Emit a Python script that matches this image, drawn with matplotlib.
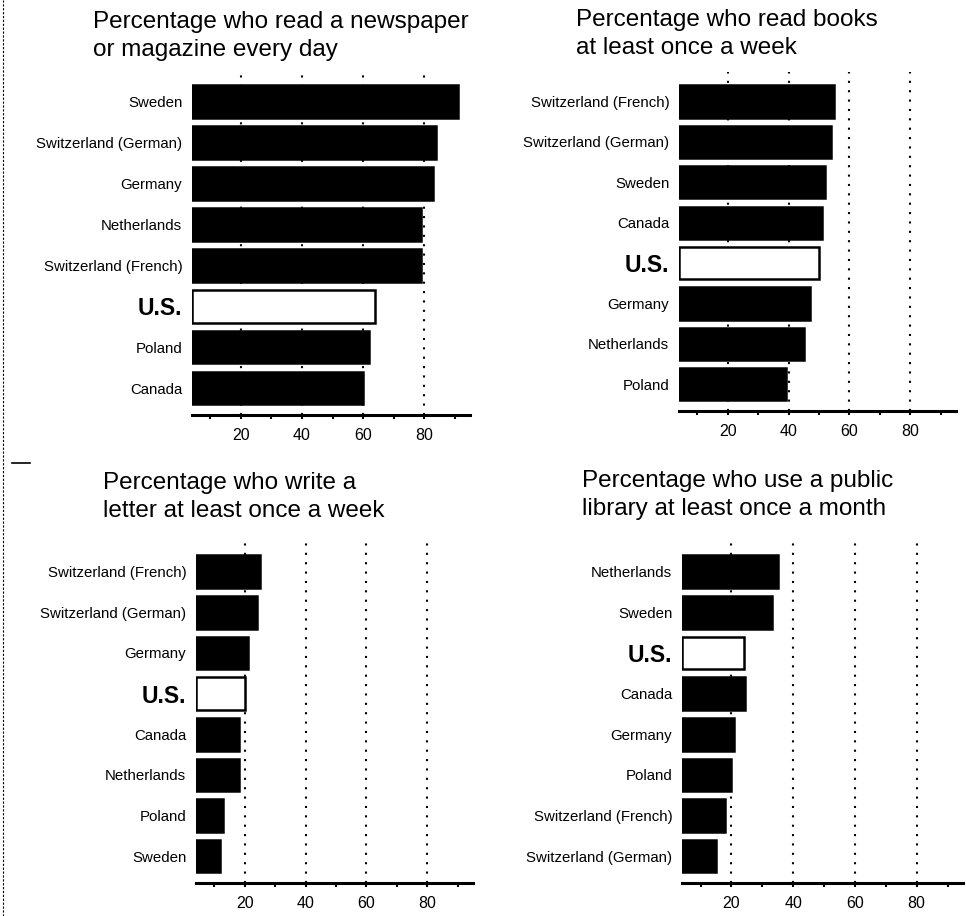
import matplotlib.pyplot as plt
from matplotlib.lines import Line2D

plt.rcParams['font.family'] = ['Liberation Sans', 'DejaVu Sans']

# panel data, top to bottom as drawn
news_countries = ['Sweden', 'Switzerland (German)', 'Germany', 'Netherlands',
                  'Switzerland (French)', 'U.S.', 'Poland', 'Canada']
news_values = [91, 84, 83, 79, 79, 64, 62, 60]

books_countries = ['Switzerland (French)', 'Switzerland (German)', 'Sweden', 'Canada',
                   'U.S.', 'Germany', 'Netherlands', 'Poland']
books_values = [55, 54, 52, 51, 50, 47, 45, 39]

letter_countries = ['Switzerland (French)', 'Switzerland (German)', 'Germany', 'U.S.',
                    'Canada', 'Netherlands', 'Poland', 'Sweden']
letter_values = [25, 24, 21, 20, 18, 18, 13, 12]

library_countries = ['Netherlands', 'Sweden', 'U.S.', 'Canada', 'Germany', 'Poland',
                     'Switzerland (French)', 'Switzerland (German)']
library_values = [35, 33, 24, 24.5, 21, 20, 18, 15]

titles = ['Percentage who read a newspaper\nor magazine every day',
          'Percentage who read books\nat least once a week',
          'Percentage who write a\nletter at least once a week',
          'Percentage who use a public\nlibrary at least once a month']

W, H = 966, 916
fig = plt.figure(figsize=(W / 100, H / 100), dpi=100)
fig.patch.set_facecolor('white')

# axes boxes in pixels: left, right, top, bottom
boxes = [(192, 470, 72, 415), (679, 956, 72, 411),
         (196, 473, 542, 883), (682, 963, 542, 883)]
title_pos = [(93, 11), (576, 9), (103, 472), (582, 470)]

panels = [(news_countries, news_values), (books_countries, books_values),
          (letter_countries, letter_values), (library_countries, library_values)]

XMIN, XMAX = 4, 95

for (countries, values), (l, r, t, b), title, (tx, ty) in zip(panels, boxes, titles, title_pos):
    ax = fig.add_axes([l / W, 1 - b / H, (r - l) / W, (b - t) / H])
    ypos = list(range(len(countries)))
    colors = ['white' if c == 'U.S.' else 'black' for c in countries]
    widths = [v - XMIN for v in values]
    ax.barh(ypos, widths, left=XMIN, height=0.8, color=colors,
            edgecolor='black', linewidth=1.8, zorder=3)
    for gx in [20, 40, 60, 80]:
        ax.axvline(gx, color='black', linestyle=(0, (1, 3.5)), linewidth=1.5, zorder=1)
    ax.set_xlim(XMIN, XMAX)
    ax.set_ylim(7.66, -0.73)
    ax.set_yticks(ypos)
    ax.set_yticklabels(countries, fontsize=10.8)
    for lab in ax.get_yticklabels():
        if lab.get_text() == 'U.S.':
            lab.set_fontsize(16.5)
            lab.set_fontweight('bold')
    ax.tick_params(axis='y', length=0, pad=7)
    ax.set_xticks([20, 40, 60, 80])
    ax.set_xticks([10, 30, 50, 70, 90], minor=True)
    ax.tick_params(axis='x', which='both', direction='out', length=3, width=1.5,
                   labelsize=11.5, pad=6)
    for s in ['top', 'left', 'right']:
        ax.spines[s].set_visible(False)
    ax.spines['bottom'].set_linewidth(2.2)
    fig.text(tx / W, 1 - ty / H, title, fontsize=17.5, ha='left', va='top',
             linespacing=1.38)

# scan border on the left edge
fig.add_artist(Line2D([3 / W, 3 / W], [0, 1], color='black', linestyle=(0, (2, 1.5)),
                      linewidth=0.8))
fig.add_artist(Line2D([12 / W, 30 / W], [1 - 463 / H, 1 - 463 / H], color='black',
                      linewidth=1.2))

fig.savefig('out.png', dpi=100, facecolor='white')
